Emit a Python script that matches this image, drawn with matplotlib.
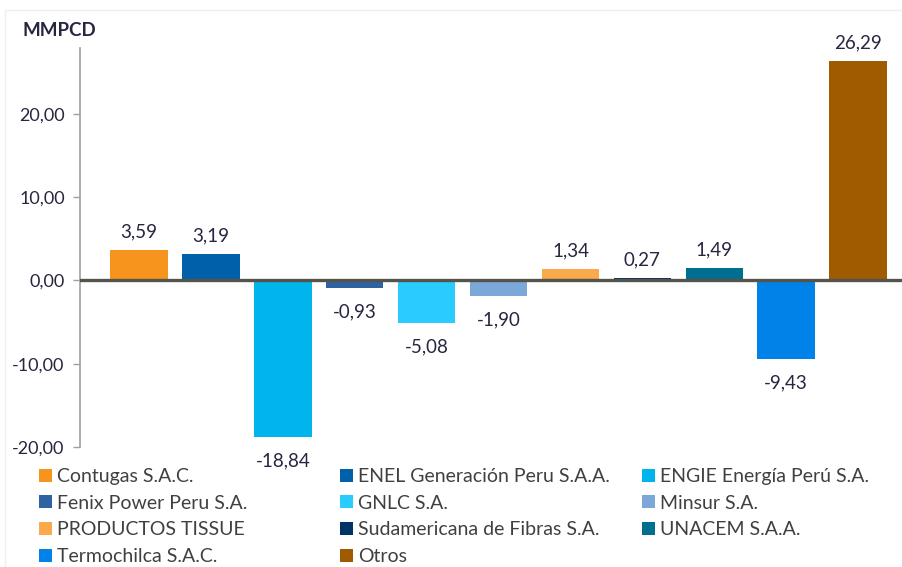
import numpy as np
import matplotlib

matplotlib.use("Agg")
import matplotlib.pyplot as plt
from matplotlib.patches import Patch, Rectangle

COMPANIES = ["Contugas S.A.C.", "ENEL Generación Peru S.A.A.", "ENGIE Energía Perú S.A.",
             "Fenix Power Peru S.A.", "GNLC S.A.", "Minsur S.A.",
             "PRODUCTOS TISSUE", "Sudamericana de Fibras S.A.", "UNACEM S.A.A.",
             "Termochilca S.A.C.", "Otros"]
VALUES = [3.59, 3.19, -18.84, -0.93, -5.08, -1.90, 1.34, 0.27, 1.49, -9.43, 26.29]
COLORS = ["#F7941D", "#0060AA", "#00B5EB", "#2E62A1", "#29CCFF", "#7BA7D9",
          "#FAA94C", "#003366", "#006E8F", "#0082E8", "#A05A00"]
YTICKS = [-20, -10, 0, 10, 20]

FONT = ["Lato", "DejaVu Sans"]
TXT = "#262640"

plt.rcParams["font.family"] = FONT

fig = plt.figure(figsize=(9.02, 5.67), dpi=100)
W, H = 902, 567
ax = fig.add_axes([80 / W, 1 - 447 / H, (902 - 80) / W, (447 - 48) / H])

# faint frame around the chart area
fig.patches.append(Rectangle((5 / W, -0.1), 1.2, 1 - 10 / H + 0.1, transform=fig.transFigure,
                             fill=False, edgecolor="#eeeeee", lw=1.0))

x = np.arange(len(VALUES))
ax.bar(x, VALUES, width=0.8, color=COLORS, zorder=3)

for xi, v in zip(x, VALUES):
    lab = f"{v:.2f}".replace(".", ",")
    if v >= 0:
        ax.annotate(lab, (xi, v), xytext=(0, 7), textcoords="offset points",
                    ha="center", va="bottom", fontsize=13.5, color=TXT)
    else:
        ax.annotate(lab, (xi, v), xytext=(0, -11), textcoords="offset points",
                    ha="center", va="top", fontsize=13.5, color=TXT)

ax.axhline(0, color="#55544c", lw=2.4, zorder=4, xmin=-0.003)

ax.set_xlim(-0.82, 10.61)
ax.set_ylim(-20, 27.9)
ax.set_xticks([])
ax.set_yticks(YTICKS)
ax.set_yticklabels([f"{t:.2f}".replace(".", ",") for t in YTICKS], fontsize=13, color=TXT)
ax.tick_params(axis="y", length=5, color="#a0a0a0", width=1, pad=6)

for s in ["top", "right", "bottom"]:
    ax.spines[s].set_visible(False)
ax.spines["left"].set_color("#a0a0a0")
ax.spines["left"].set_linewidth(1.2)

fig.text(22 / W, 1 - 30 / H, "MMPCD", fontsize=13.5, fontweight="bold", color=TXT,
         ha="left", va="center")

# legend: three columns at fixed positions, filled row by row
handles = [Patch(facecolor=c, edgecolor="none", label=n) for n, c in zip(COMPANIES, COLORS)]
col_x = [39, 340, 642]
for c, cx in enumerate(col_x):
    leg = fig.legend(handles=handles[c::3], loc="upper left",
                     bbox_to_anchor=(cx / W, 1 - 468 / H), frameon=False, fontsize=14,
                     handlelength=0.65, handleheight=0.65, handletextpad=0.3,
                     labelspacing=0.5, borderaxespad=0, borderpad=0)
    for t in leg.get_texts():
        t.set_color("#404040")

fig.savefig("out.png", dpi=100)
